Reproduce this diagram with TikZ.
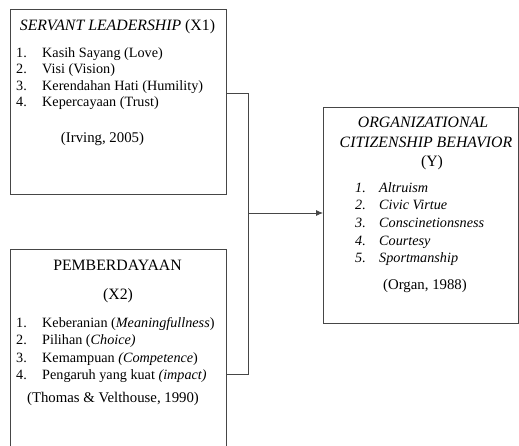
\documentclass[tikz,border=0pt]{standalone}
\usepackage{fontspec}
\setmainfont{Liberation Serif}
\usetikzlibrary{arrows.meta}
\definecolor{linegray}{RGB}{70,70,70}

\begin{document}
\begin{tikzpicture}[x=1pt,y=-1pt]
        \tikzstyle{every node}=[font=\fontsize{14.2}{16}\selectfont,anchor=base,inner sep=0pt]
        \tikzstyle{title}=[font=\fontsize{15.8}{18}\selectfont]
        \tikzstyle{source}=[font=\fontsize{14.8}{17}\selectfont]
        \tikzstyle{box}=[draw=linegray,line width=0.8pt,outer sep=0pt,anchor=center]
        \tikzstyle{item}=[anchor=base west]
        \useasboundingbox (0,0) rectangle (519,445);
        \begin{scope}
           % servant leadership
           \node[box,minimum width=216,minimum height=185] (sl) at (118,101.5) {};
           \node[title] (sltitle) at (117.5,30.5) {\textit{SERVANT LEADERSHIP} (X1)};
           \foreach\t [count=\i] in {{Kasih Sayang (Love)},{Visi (Vision)},{Kerendahan Hati (Humility)},{Kepercayaan (Trust)}}{
               \node[item] (slnum\i) at (16,57.5+16.4*\i-16.4) {\i.};
               \node[item] (slitem\i) at (42,57.5+16.4*\i-16.4) {\t};
           }
           \node[source] (slref) at (102.5,142) {(Irving, 2005)};

           % pemberdayaan
           \node[box,minimum width=216,minimum height=211] (pb) at (118,354.5) {};
           \node[title] (pbtitle) at (117.5,270.5) {PEMBERDAYAAN};
           \node[title] (pbvar) at (118,299) {(X2)};
           \foreach\t [count=\i] in {{Keberanian (\textit{Meaningfullness})},{Pilihan (\textit{Choice)}},{Kemampuan \textit{(Competence})},{Pengaruh yang kuat \textit{(impact)}}}{
               \node[item] (pbnum\i) at (16,327.5+17.3*\i-17.3) {\i.};
               \node[item] (pbitem\i) at (42,327.5+17.3*\i-17.3) {\t};
           }
           \node[source] (pbref) at (113,402) {(Thomas \& Velthouse, 1990)};

           % organizational citizenship behavior
           \node[box,minimum width=195,minimum height=216] (ocb) at (420.5,215) {};
           \node[title] (ocbtitle1) at (423,127.5) {\textit{ORGANIZATIONAL}};
           \node[title] (ocbtitle2) at (426,147) {\textit{CITIZENSHIP BEHAVIOR}};
           \node[title] (ocbvar) at (432,166.5) {(Y)};
           \foreach\t [count=\i] in {Altruism,Civic Virtue,Conscinetionsness,Courtesy,Sportmanship}{
               \node[item] (ocbnum\i) at (355,192+17.7*\i-17.7) {\textit{\i.}};
               \node[item] (ocbitem\i) at (379,192+17.7*\i-17.7) {\textit{\t}};
           }
           \node[source] (ocbref) at (425,289.5) {(Organ, 1988)};

           % connectors
           \coordinate (jtop) at (248,93);
           \coordinate (jbot) at (248,374);
           \coordinate (jmid) at (248,213);
           \draw[linegray,line width=0.8pt] (sl.east |- jtop) -- (jtop) -- (jbot) -- (pb.east |- jbot);
           \draw[linegray,line width=0.8pt,-{Latex[length=7pt,width=6pt]}] (jmid) -- (ocb.west |- jmid);
        \end{scope}
\end{tikzpicture}
\end{document}
